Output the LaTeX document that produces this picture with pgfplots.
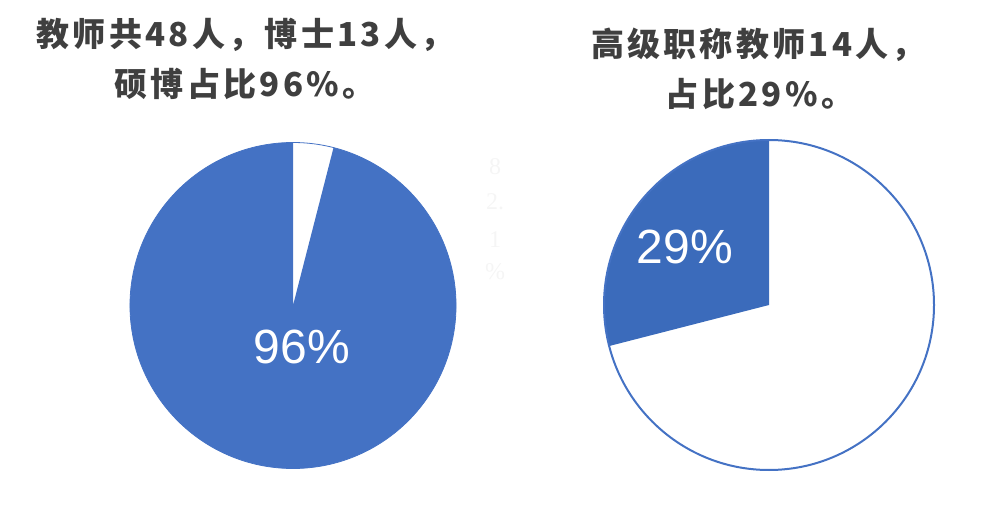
\documentclass[border=0pt]{standalone}
\usepackage{pgfplots}
\pgfplotsset{compat=1.18}
\usepackage{pgfplotstable}
\usepackage{fontspec}
\setmainfont{Liberation Sans}
\newfontfamily\cjk[LetterSpace=10]{Noto Sans CJK SC}
\newfontfamily\faint{Liberation Serif}

\definecolor{pieblue}{HTML}{4472C4}
\definecolor{sliceblue}{HTML}{3B6BBB}
\definecolor{titlegray}{HTML}{3F3F3F}
\definecolor{faintgray}{HTML}{F5F5F5}

% share of the 48 teachers holding a master's or doctoral degree
\pgfplotstableread{
group share
degree 96
other 4
}\degreeTbl

% share of the teachers with a senior professional title
\pgfplotstableread{
group share
senior 29
other 71
}\seniorTbl

\pgfplotsset{
  pie/.style={
    x=1pt, y=1pt,
    xmin=-175, xmax=175, ymin=-175, ymax=175,
    hide axis, clip=false, anchor=center,
  },
}

\begin{document}
\begin{tikzpicture}
\path[use as bounding box] (0,0) rectangle (990pt,504pt);

\pgfplotstablegetelem{0}{share}\of\degreeTbl
\let\degShare\pgfplotsretval
\pgfmathsetmacro\degAngle{3.6*\degShare}
\pgfplotstablegetelem{0}{share}\of\seniorTbl
\let\senShare\pgfplotsretval
\pgfmathsetmacro\senAngle{3.6*\senShare}

% titles
\begin{scope}[every node/.style={text=titlegray, font=\cjk\bfseries\fontsize{33}{38}\selectfont, anchor=base, inner sep=0pt}]
\node at (245pt,457pt) {教师共48人，博士13人，};
\node at (245pt,407pt) {硕博占比96\%。};
\node at (758pt,447pt) {高级职称教师14人，};
\node at (760pt,397pt) {占比29\%。};
\end{scope}

% left pie: degree holders
\begin{axis}[pie, at={(293pt,198.5pt)}]
\fill[pieblue] (axis cs:0,0) -- ++({\degAngle-270}:163pt)
  arc[start angle={\degAngle-270}, end angle=-270, radius=163pt] -- cycle;
\draw[pieblue, line width=0.8pt] (axis cs:0,0) circle[radius=163pt];
\node[text=white, font=\fontsize{48}{52}\selectfont] at (axis cs:9,-41)
  {\degShare\%};
\end{axis}

% right pie: senior titles
\begin{axis}[pie, at={(769pt,199pt)}]
\fill[sliceblue] (axis cs:0,0) -- ++(90:165pt)
  arc[start angle=90, end angle={90+\senAngle}, radius=165pt] -- cycle;
\draw[pieblue, line width=2pt] (axis cs:0,0) circle[radius=165pt];
\node[text=white, font=\fontsize{48}{52}\selectfont] at (axis cs:-84,58)
  {\senShare\%};
\end{axis}

% faint vertical note between the pies
\begin{scope}[every node/.style={text=faintgray, font=\faint\fontsize{24}{26}\selectfont, inner sep=0pt}]
\node at (495pt,337pt) {8};
\node at (495pt,302pt) {2.};
\node at (495pt,264pt) {1};
\node at (495pt,232pt) {\%};
\end{scope}
\end{tikzpicture}
\end{document}
